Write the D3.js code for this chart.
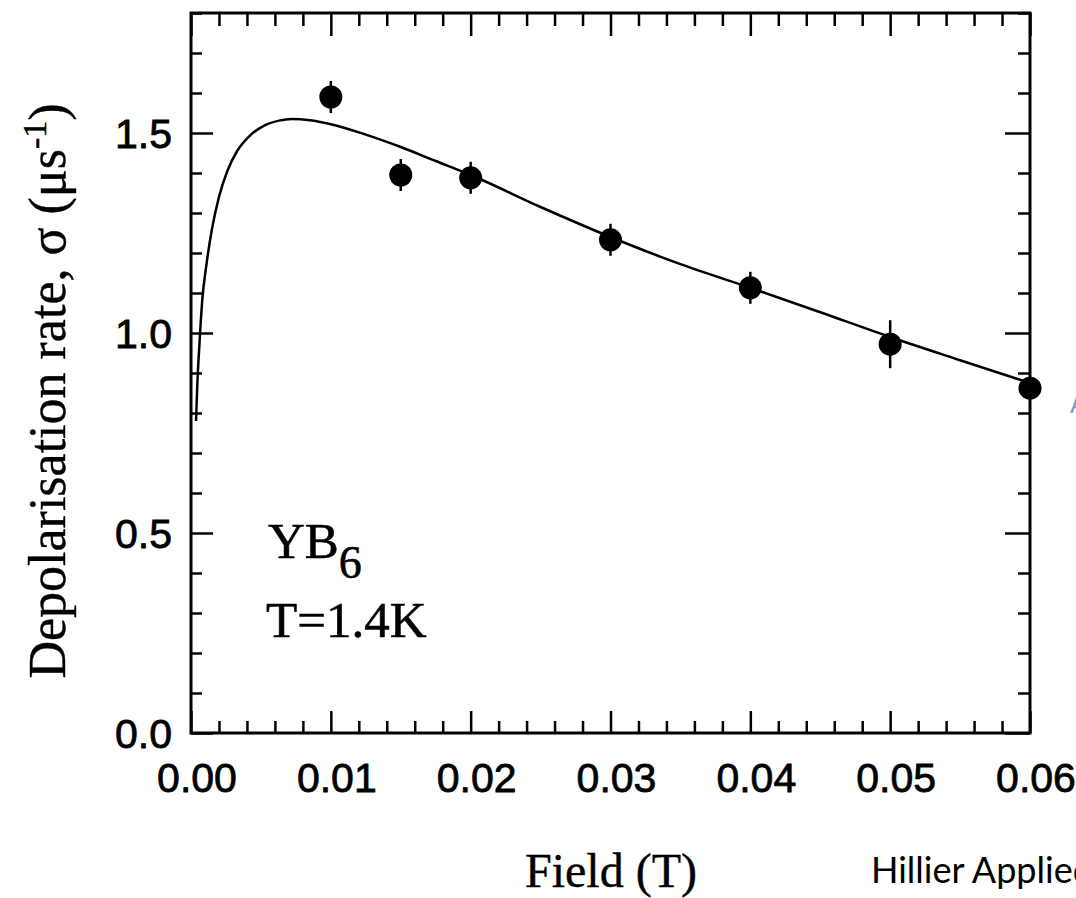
<!DOCTYPE html>
<html>
<head>
<meta charset="utf-8">
<script src="https://cdn.jsdelivr.net/npm/d3@7"></script>
<style>
html,body{margin:0;padding:0;background:#fff;overflow:hidden;}
svg{display:block;}
</style>
</head>
<body>
<svg id="chart" width="1076" height="898"></svg>
<script>
// ---- data ----
const pointField = [0.01, 0.015, 0.02, 0.03, 0.04, 0.05, 0.06];
const pointSigma = [1.59, 1.395, 1.388, 1.233, 1.113, 0.972, 0.862];
const pointErr   = [0.04, 0.04, 0.04, 0.04, 0.04, 0.06, 0.03];

const curveField = [0.00036,0.00045,0.0006,0.0008,0.0011,0.0015,0.002,0.0026,0.0033,0.0042,0.0052,0.0063,0.0072,0.0085,0.01,0.0125,0.015,0.0175,0.02,0.025,0.03,0.035,0.04,0.045,0.05,0.055,0.06];
const curveSigma = [0.78,0.87,0.97,1.08,1.17,1.26,1.34,1.405,1.455,1.493,1.518,1.531,1.535,1.532,1.522,1.496,1.465,1.43,1.395,1.315,1.24,1.172,1.113,1.052,0.99,0.932,0.875];

const xTickValues = [0, 0.01, 0.02, 0.03, 0.04, 0.05, 0.06];
const xTickLabels = ["0.00","0.01","0.02","0.03","0.04","0.05","0.06"];
const yTickValues = [0, 0.5, 1.0, 1.5];
const yTickLabels = ["0.0","0.5","1.0","1.5"];
const xTitle = "Field (T)";
const yTitle = "Depolarisation rate, σ (μs";
const sampleName = "YB";
const sampleSub = "6";
const tempLabel = "T=1.4K";
const creditText = "Hillier Applied";

// ---- layout ----
const svg = d3.select("#chart");
const L = 191, R = 1030, T = 13, B = 733;
const x = d3.scaleLinear().domain([0, 0.06]).range([L, R]);
const y = d3.scaleLinear().domain([0, 1.8]).range([B, T]);

const xMinor = d3.range(0, 0.0601, 0.002).filter(v => Math.abs(v/0.01 - Math.round(v/0.01)) > 1e-6);
const yMinor = d3.range(0, 1.801, 0.1).filter(v => Math.abs(v/0.5 - Math.round(v/0.5)) > 1e-6);

const tickStyle = g => g.selectAll("line").attr("stroke", "#000").attr("stroke-width", 2.5);

const gB = svg.append("g").attr("transform", `translate(0,${B})`);
gB.call(d3.axisBottom(x).tickValues(xTickValues).tickSize(-22).tickFormat(""));
gB.append("g").call(d3.axisBottom(x).tickValues(xMinor).tickSize(-12).tickFormat(""));
const gT = svg.append("g").attr("transform", `translate(0,${T})`);
gT.call(d3.axisTop(x).tickValues(xTickValues).tickSize(-23).tickFormat(""));
gT.append("g").call(d3.axisTop(x).tickValues(xMinor).tickSize(-13).tickFormat(""));
const gL = svg.append("g").attr("transform", `translate(${L},0)`);
gL.call(d3.axisLeft(y).tickValues(yTickValues).tickSize(-22).tickFormat(""));
gL.append("g").call(d3.axisLeft(y).tickValues(yMinor).tickSize(-11).tickFormat(""));
const gR = svg.append("g").attr("transform", `translate(${R},0)`);
gR.call(d3.axisRight(y).tickValues(yTickValues).tickSize(-25).tickFormat(""));
gR.append("g").call(d3.axisRight(y).tickValues(yMinor).tickSize(-12).tickFormat(""));

[gB, gT, gL, gR].forEach(g => {
  g.selectAll(".domain").remove();
  tickStyle(g);
});

svg.append("rect").attr("x", L).attr("y", T).attr("width", R - L).attr("height", B - T)
  .attr("fill", "none").attr("stroke", "#000").attr("stroke-width", 3);

const labelFont = "'Liberation Sans', Arial, sans-serif";
svg.append("g").selectAll("text").data(xTickValues).join("text")
  .attr("x", d => x(d) + 6).attr("y", 792)
  .attr("text-anchor", "middle")
  .attr("font-family", labelFont).attr("font-size", 41)
  .attr("fill", "#000").attr("stroke", "#000").attr("stroke-width", 0.8)
  .text((d, i) => xTickLabels[i]);

svg.append("g").selectAll("text").data(yTickValues).join("text")
  .attr("x", 172).attr("y", d => y(d) + 15)
  .attr("text-anchor", "end")
  .attr("font-family", labelFont).attr("font-size", 41)
  .attr("fill", "#000").attr("stroke", "#000").attr("stroke-width", 0.8)
  .text((d, i) => yTickLabels[i]);

const curveData = curveField.map((f, i) => [f, curveSigma[i]]);
svg.append("path").datum(curveData)
  .attr("fill", "none").attr("stroke", "#000").attr("stroke-width", 2.5)
  .attr("d", d3.line().x(d => x(d[0])).y(d => y(d[1])).curve(d3.curveMonotoneX));

const pts = pointField.map((f, i) => ({f, s: pointSigma[i], e: pointErr[i]}));
svg.append("g").selectAll("line").data(pts).join("line")
  .attr("x1", d => x(d.f)).attr("x2", d => x(d.f))
  .attr("y1", d => y(d.s + d.e)).attr("y2", d => y(d.s - d.e))
  .attr("stroke", "#000").attr("stroke-width", 2.5);
svg.append("g").selectAll("circle").data(pts).join("circle")
  .attr("cx", d => x(d.f)).attr("cy", d => y(d.s)).attr("r", 11.5)
  .attr("fill", "#000");

const serif = "'Liberation Serif', 'Times New Roman', serif";
const t1 = svg.append("text").attr("x", 268).attr("y", 558)
  .attr("font-family", serif).attr("font-size", 51).attr("fill", "#000")
  .attr("stroke", "#000").attr("stroke-width", 0.6);
t1.append("tspan").text(sampleName);
t1.append("tspan").attr("dy", 20).attr("font-size", 46).text(sampleSub);

svg.append("text").attr("x", 266).attr("y", 637)
  .attr("font-family", serif).attr("font-size", 51).attr("fill", "#000")
  .attr("stroke", "#000").attr("stroke-width", 0.6)
  .text(tempLabel);

svg.append("text").attr("x", 611).attr("y", 887)
  .attr("text-anchor", "middle")
  .attr("font-family", serif).attr("font-size", 48).attr("fill", "#000")
  .attr("stroke", "#000").attr("stroke-width", 0.4)
  .text(xTitle);

const yt = svg.append("text")
  .attr("transform", "translate(65,391) rotate(-90)")
  .attr("text-anchor", "middle")
  .attr("font-family", serif).attr("font-size", 52).attr("fill", "#000")
  .attr("stroke", "#000").attr("stroke-width", 0.4);
yt.append("tspan").text(yTitle);
yt.append("tspan").attr("dy", -19).attr("font-size", 34).text("-1");
yt.append("tspan").attr("dy", 19).text(")");

svg.append("text").attr("x", 871).attr("y", 883)
  .attr("font-family", "Lato, 'Open Sans', sans-serif").attr("font-size", 36).attr("fill", "#000")
  .text(creditText);

svg.append("text").attr("x", 1070).attr("y", 413)
  .attr("font-family", "Lato, 'Open Sans', sans-serif").attr("font-size", 26).attr("fill", "#7f9fd6")
  .text("A");
</script>
</body>
</html>
